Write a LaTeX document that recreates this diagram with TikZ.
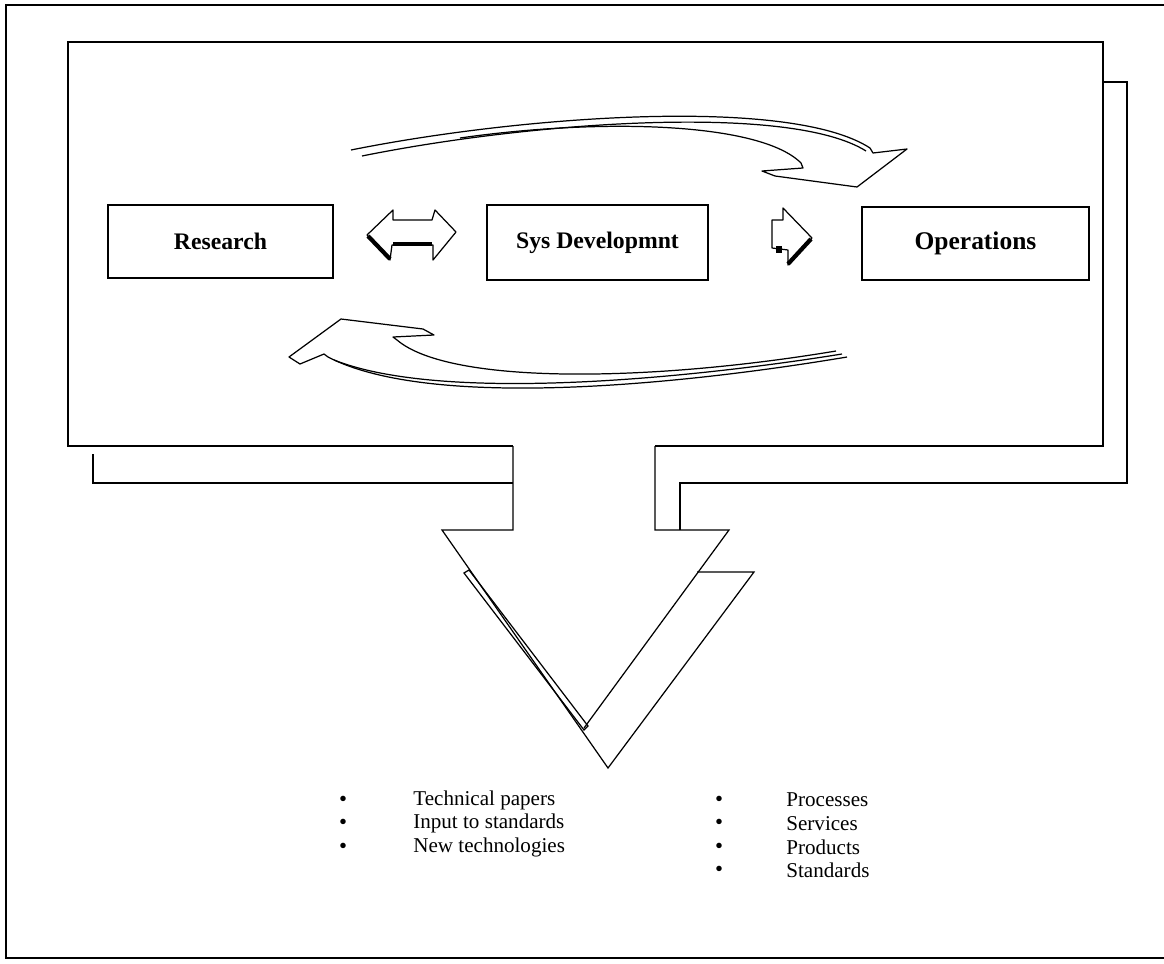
\documentclass[tikz,border=0pt]{standalone}
\usepackage{fontspec}
\setmainfont{Liberation Serif}
\usetikzlibrary{positioning}

\begin{document}
\begin{tikzpicture}[x=0.02cm,y=-0.02cm,
  box/.style={draw,line width=1.1pt,minimum width=4.5cm,minimum height=1.46cm,
    inner sep=0pt,font=\fontsize{13.5}{16}\selectfont\bfseries},
  frame/.style={line width=0.7pt},
  ribbon/.style={line width=0.7pt,line join=round},
  shade/.style={line width=2.4pt},
  item/.style={anchor=west,inner sep=0pt,font=\fontsize{12}{14}\selectfont},
  dot/.style={inner sep=0pt,font=\fontsize{13}{14}\selectfont}]
  \useasboundingbox (0,0) rectangle (1164,964);

  % outer frame
  \draw[line width=1pt] (1164,5) -- (6,5) -- (6,958) -- (1164,958);

  % panel with its arrow
  \draw[frame] (513,446) -- (68,446) -- (68,42) -- (1103,42) -- (1103,446) -- (655,446);
  \draw[frame] (513,446) -- (513,530) -- (442,530) -- (608,768) -- (754,572) -- (697,572);
  \draw[frame] (655,446) -- (655,530) -- (729,530) -- (584,728);
  \draw[frame] (464,573) -- (469,570) -- (588,726) -- (584,730) -- cycle;
  \draw[frame] (93,454) -- (93,483) -- (513,483);
  \draw[frame] (1103,82) -- (1127,82) -- (1127,483) -- (680,483) -- (680,530);

  \node[box] (research) at (220.5,241.5) {Research};
  \node[box,minimum width=4.42cm,minimum height=1.5cm] (sysdev) at (597.5,242.5) {Sys Developmnt};
  \node[box,minimum width=4.54cm,font=\fontsize{14.5}{17}\selectfont\bfseries] (operations) at (975.5,243.5) {Operations};

  % small arrows between the boxes
  \draw[ribbon] (367,235) -- (393,210) -- (393,220) -- (432,220) -- (435,210) -- (456,232)
    -- (433,260) -- (433,245) -- (392,245) -- (390,260) -- cycle;
  \draw[shade] (368,236) -- (390,259);
  \draw[shade] (393,244) -- (432,244);
  \draw[ribbon] (772,220) -- (783,220) -- (783,208) -- (812,238) -- (788,265) -- (788,250)
    -- (772,248) -- cycle;
  \draw[shade] (811,239) -- (788,264);
  \fill (776,246) rectangle (782,253);

  % feedback ribbons
  \draw[ribbon] (351,150) .. controls (520,116) and (790,96) .. (870,148) -- (873,153)
    -- (907,149) -- (857,187) -- (775,176) -- (762,171) -- (803,168) -- (801,163)
    .. controls (760,122) and (600,118) .. (460,138);
  \draw[ribbon] (362,156) .. controls (530,122) and (790,103) .. (866,151);
  \draw[ribbon] (847,357) .. controls (680,385) and (430,410) .. (328,357) -- (324,354)
    -- (300,364) -- (289,357) -- (341,319) -- (423,329) -- (434,335) -- (393,337)
    -- (397,340) .. controls (450,385) and (650,382) .. (836,351);
  \draw[ribbon] (842,354) .. controls (680,380) and (440,402) .. (334,360);

  % outputs
  \foreach \txt [count=\i from 0] in {Technical papers, Input to standards, New technologies} {
    \node[dot] (ldot\i) at (343,{801+23.5*\i}) {\textbullet};
    \node[item] (litem\i) at (413,{800+23.5*\i}) {\txt};
  }
  \foreach \txt [count=\i from 0] in {Processes, Services, Products, Standards} {
    \node[dot] (rdot\i) at (719,{801+23.5*\i}) {\textbullet};
    \node[item] (ritem\i) at (786,{800+23.5*\i}) {\txt};
  }
\end{tikzpicture}
\end{document}
